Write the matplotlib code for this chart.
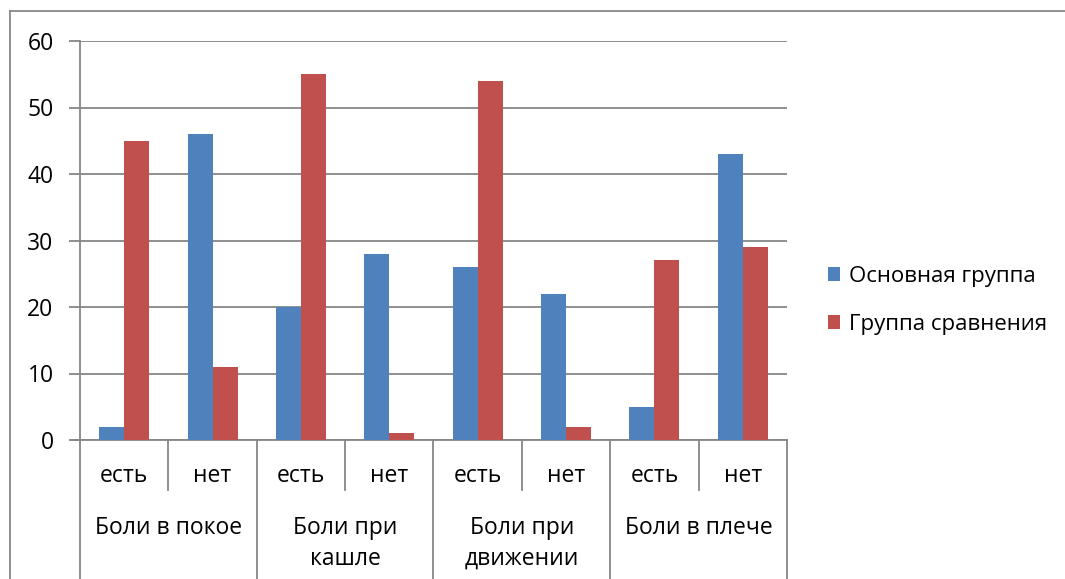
import numpy as np
import matplotlib.pyplot as plt
from matplotlib.lines import Line2D

plt.rcParams['font.family'] = ['Open Sans', 'DejaVu Sans']

groups = ["Боли в покое", "Боли при\nкашле", "Боли при\nдвижении", "Боли в плече"]
answers = ["есть", "нет"]
main_group = [2, 46, 20, 28, 26, 22, 5, 43]
compare_group = [45, 11, 55, 1, 54, 2, 27, 29]
series_names = ["Основная группа", "Группа сравнения"]
yticks = [0, 10, 20, 30, 40, 50, 60]

blue = "#4F81BD"
red = "#C0504D"
grey = "#868686"
fs = 16.5

fig = plt.figure(figsize=(10.65, 5.79), dpi=100)
ax = fig.add_axes([80 / 1065, 139 / 579, 707 / 1065, 399 / 579])

n = len(main_group)
x = np.arange(n)
w = 0.283
ax.bar(x - w / 2, main_group, w, color=blue, label=series_names[0], zorder=3)
ax.bar(x + w / 2, compare_group, w, color=red, label=series_names[1], zorder=3)

ax.set_xlim(-0.5, n - 0.5)
ax.set_ylim(0, 60)
ax.set_yticks(yticks)
ax.yaxis.grid(True, color=grey, linewidth=1.3, zorder=0)
ax.tick_params(axis='y', length=8, width=1.3, color=grey, labelsize=fs, pad=11)
ax.set_xticks([])
for side in ['top', 'right']:
    ax.spines[side].set_visible(False)
ax.spines['left'].set_color(grey)
ax.spines['left'].set_linewidth(1.3)
ax.spines['bottom'].set_visible(False)

# category axis: baseline, separators and two rows of labels
trans = ax.get_xaxis_transform()
ax.add_line(Line2D([-0.6, n - 0.5], [0, 0], transform=trans, color=grey,
                   lw=1.3, clip_on=False))
ax.add_line(Line2D([-0.5, -0.5], [0, -0.36], transform=trans, color=grey,
                   lw=1.3, clip_on=False))
for i in range(n):
    right = i + 0.5
    depth = -0.36 if i % 2 == 1 else -0.125
    ax.add_line(Line2D([right, right], [0, depth], transform=trans, color=grey,
                       lw=1.3, clip_on=False))
    ax.text(i, -0.09, answers[i % 2], transform=trans, ha='center', va='center',
            fontsize=fs)
for g, name in enumerate(groups):
    ax.text(2 * g + 0.5, -0.19, name, transform=trans, ha='center', va='top',
            fontsize=fs, linespacing=1.38)

ax.legend(loc='center left', bbox_to_anchor=(1.03, 0.35), frameon=False,
          fontsize=16, handlelength=0.55, handleheight=0.55, handletextpad=0.4,
          labelspacing=1.2)

# chart frame
fig.add_artist(Line2D([10 / 1065, 10 / 1065], [0, 1 - 11 / 579], color=grey, lw=1.3))
fig.add_artist(Line2D([10 / 1065, 1], [1 - 11 / 579, 1 - 11 / 579], color=grey, lw=1.3))

fig.savefig("out.png", dpi=100)
